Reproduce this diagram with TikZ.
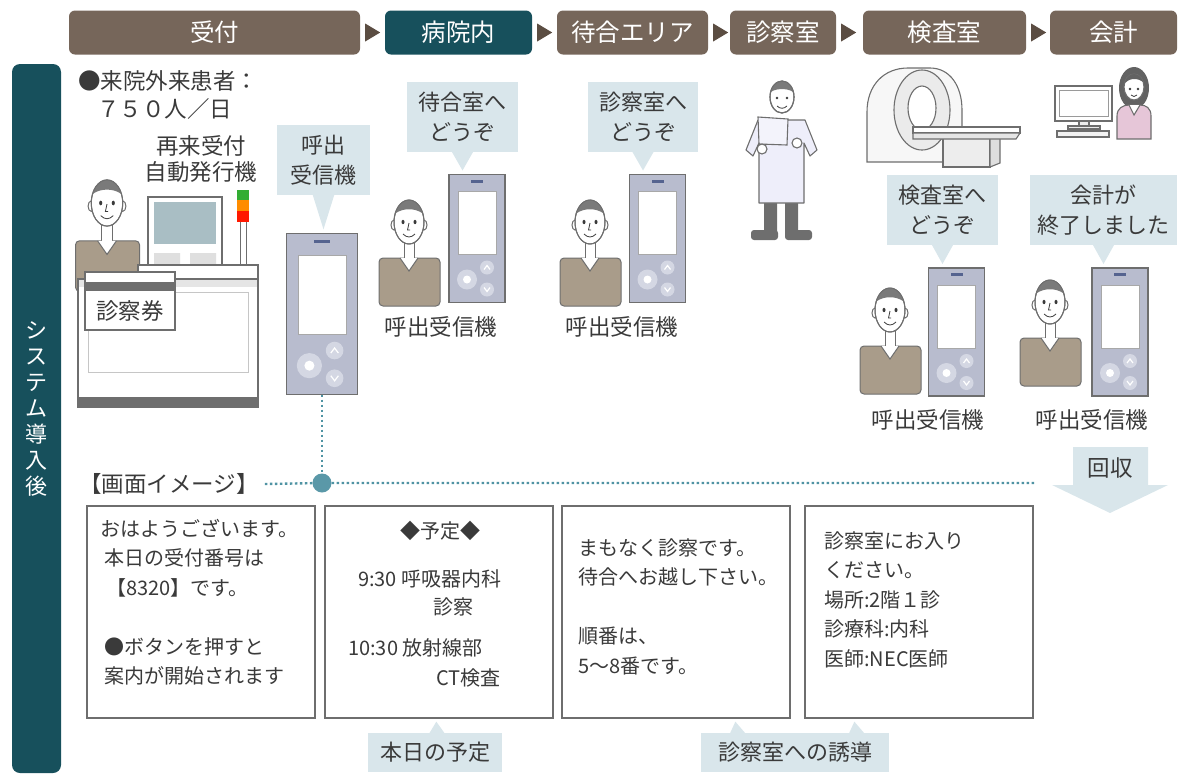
\documentclass[tikz,border=0pt]{standalone}
\usepackage{fontspec}
\setmainfont{Noto Sans CJK JP}
\usetikzlibrary{calc}

\definecolor{tabbrown}{HTML}{76665A}
\definecolor{tabteal}{HTML}{17505C}
\definecolor{tipbrown}{HTML}{5B4D42}
\definecolor{bubble}{HTML}{D9E6EB}
\definecolor{ink}{HTML}{3A3A3A}
\definecolor{edge}{HTML}{6E6E6E}
\definecolor{pagerbody}{HTML}{B8BCCE}
\definecolor{pagerkey}{HTML}{D4D7E3}
\definecolor{lamp}{HTML}{55638F}
\definecolor{shirt}{HTML}{A99C8A}
\definecolor{hair}{HTML}{7A7A7A}
\definecolor{dotteal}{HTML}{4F93A3}
\definecolor{hubteal}{HTML}{5A98A8}
\definecolor{kiosk}{HTML}{A9BEC4}
\definecolor{coat}{HTML}{EEEEFA}
\definecolor{blouse}{HTML}{E6C6D8}

\tikzset{
  pager/.pic={
    \draw[edge, line width=1.3pt, fill=pagerbody] (-28,-64) rectangle (28,64);
    \fill[lamp] (-6,-59) rectangle (6,-56);
    \draw[edge!60, fill=white] (-19,-47) rectangle (19,16);
    \fill[pagerkey] (-10,41) circle (10);
    \fill[white] (-10,41) circle (4);
    \fill[pagerkey] (10,29) circle (7) (10,51) circle (7);
    \draw[white, line width=1.2pt] (7,31) -- (10,27) -- (13,31) (7,49) -- (10,53) -- (13,49);
    \coordinate (-top) at (0,-64);
    \coordinate (-bot) at (0,64);
  },
  man/.pic={
    \draw[edge, line width=1pt, fill=shirt, rounded corners=4pt] (-30,84) -- (-30,36) -- (31,36) -- (31,84) -- cycle;
    \draw[edge, line width=1pt, fill=white] (-5,14) rectangle (5,38);
    \draw[edge, line width=1pt, fill=white] (-9,36) -- (0,49) -- (9,36);
    \draw[edge, line width=1pt, fill=white] (-15,3) ellipse (3 and 5) (15,3) ellipse (3 and 5);
    \draw[edge, line width=1pt, fill=white] (0,0) ellipse (15 and 22);
    \begin{scope}
      \clip (0,0) ellipse (15 and 22);
      \fill[hair] (-16,-2) -- (-13,-9) .. controls (-6,-14) and (6,-14) .. (13,-9) -- (16,-2) -- (16,-23) -- (-16,-23) -- cycle;
    \end{scope}
    \draw[edge, line width=1pt] (0,0) ellipse (15 and 22);
    \fill[ink] (-6,0) ellipse (1.5 and 2.2) (6,0) ellipse (1.5 and 2.2);
    \draw[ink, line width=0.8pt] (0,1) -- (-1.5,8) -- (1,8);
    \draw[ink, line width=0.8pt] (-6,12) .. controls (-2,16) and (2,16) .. (6,12);
  }
}

\begin{document}
\begin{tikzpicture}[x=1pt, y=-1pt,
  tab/.style={fill=tabbrown, text=white, rounded corners=6pt, minimum height=44pt, inner sep=0pt, font=\fontsize{24.5}{24.5}\selectfont},
  say/.style={fill=bubble, text=ink, align=center, inner sep=0pt, minimum height=70pt, font=\fontsize{22}{30}\selectfont},
  lbl/.style={text=ink, inner sep=0pt, align=center, font=\fontsize{22.5}{26}\selectfont},
  screen/.style={draw=edge, line width=1.3pt, fill=white, minimum width=228pt, minimum height=212pt, inner sep=0pt},
  scrtxt/.style={text=ink, inner sep=0pt, align=left, font=\fontsize{20}{29.5}\selectfont},
  dotline/.style={dotteal, line width=2.4pt, dash pattern=on 2.4pt off 2.6pt},
  thing/.style={draw=edge, line width=1.1pt},
]
\useasboundingbox (0,0) rectangle (1179,777);

\node[tab, minimum width=291pt] (reception) at (214.5,32.5) {受付};
\node[tab, fill=tabteal, minimum width=147pt] (hospital) at (458.5,32.5) {病院内};
\node[tab, minimum width=151pt] (waiting) at (632.5,32.5) {待合エリア};
\node[tab, minimum width=106pt] (exam) at (783,32.5) {診察室};
\node[tab, minimum width=163pt] (test) at (944.5,32.5) {検査室};
\node[tab, minimum width=127pt] (billing) at (1113.5,32.5) {会計};
\foreach \tb in {reception,hospital,waiting,exam,test}
  \fill[tipbrown] ($(\tb.east)+(5,-9)$) -- ($(\tb.east)+(20,0)$) -- ($(\tb.east)+(5,9)$) -- cycle;

\node[fill=tabteal, rounded corners=8pt, minimum width=49pt, minimum height=709pt, inner sep=0pt] (side) at (36.5,418.5) {};
\node[text=white, align=center, inner sep=0pt, font=\fontsize{22}{26}\selectfont] (sidetxt) at (36.5,409) {シ\\ス\\テ\\ム\\導\\入\\後};

% reception desk
\pic[scale=1.05] (clerk) at (107,203) {man};
\draw[thing, fill=white] (148,197) rectangle (222,265);
\fill[kiosk] (154,202) rectangle (216,244);
\fill[gray!25] (154,253) rectangle (180,264) (190,253) rectangle (216,264);
\draw[edge, line width=0.8pt] (240,222) -- (240,265) (246,222) -- (246,265);
\fill[green!60!black!80] (237,190) rectangle (249,200);
\fill[orange!90!yellow] (237,200) rectangle (249,211);
\fill[red!80!orange] (237,211) rectangle (249,222);
\draw[thing, fill=white] (138,265) rectangle (258,279);
\draw[thing, fill=white] (78,279) rectangle (258,407);
\fill[gray!20] (79,280) rectangle (257,287);
\draw[gray!45, line width=0.8pt] (88,292) rectangle (248,372);
\fill[edge] (78,397) rectangle (258,407);
\draw[thing, fill=white] (85,272) rectangle (175,330);
\fill[edge] (85,282) rectangle (175,291);
\node[lbl] (card) at (130,311) {診察券};

\node[lbl, anchor=west] (visitors) at (78,81) {●来院外来患者：};
\node[lbl, anchor=west] (perday) at (97,109) {７５０人／日};
\node[lbl] (kiosklbl) at (201,159) {再来受付\\自動発行機};

% pagers and patients
\pic[scale=1.26] (p1) at (322,314) {pager};
\pic (p2) at (477,238.5) {pager};
\pic (p3) at (657.5,238.5) {pager};
\pic (p5) at (956.5,332) {pager};
\pic (p6) at (1120,332) {pager};
\pic (m2) at (409,222) {man};
\pic (m3) at (590,222) {man};
\pic (m5) at (890,310) {man};
\pic (m6) at (1050,302) {man};
\node[lbl] (l2) at (441,327) {呼出受信機};
\node[lbl] (l3) at (622,327) {呼出受信機};
\node[lbl] (l5) at (928,420) {呼出受信機};
\node[lbl] (l6) at (1092,420) {呼出受信機};

\node[say, minimum width=93pt] (callb) at (323.5,160) {呼出\\受信機};
\node[say, minimum width=111pt] (waitb) at (462.5,117) {待合室へ\\どうぞ};
\node[say, minimum width=110pt] (examb) at (643,117) {診察室へ\\どうぞ};
\node[say, minimum width=111pt] (testb) at (942.5,210) {検査室へ\\どうぞ};
\node[say, minimum width=147pt] (payb) at (1103.5,210) {会計が\\終了しました};
\foreach \bub/\pg in {callb/p1,waitb/p2,examb/p3,testb/p5,payb/p6}
  \fill[bubble] ($(\bub.south)+(-11,-1)$) -- ($(\bub.south |- \pg-top)+(0,-4)$) -- ($(\bub.south)+(11,-1)$) -- cycle;

% doctor
\fill[edge] (764,200) rectangle (777,235) (785,200) rectangle (798,235);
\fill[edge, rounded corners=3pt] (751,230) rectangle (778,240) (785,230) rectangle (812,240);
\draw[thing, fill=coat, line join=round] (758,120) -- (746,150) -- (753,156) -- (759,143) -- (759,203) -- (804,203) -- (804,143) -- (810,156) -- (817,150) -- (805,120) -- cycle;
\draw[thing, fill=coat!70!white] (758,117) -- (788,119) -- (787,145) -- (759,144) -- cycle;
\draw[thing, fill=white] (762,149) circle (5) (797,143) circle (5);
\draw[thing, fill=white] (782,97) ellipse (12 and 16);
\begin{scope}
  \clip (782,97) ellipse (12 and 16);
  \fill[hair] (768,95) .. controls (772,87) and (792,87) .. (796,95) -- (796,78) -- (768,78) -- cycle;
\end{scope}
\draw[thing] (782,97) ellipse (12 and 16);
\fill[ink] (777,98) circle (1.4) (787,98) circle (1.4);
\draw[ink, line width=0.8pt] (777,106) .. controls (780,109) and (784,109) .. (787,106);

% scanner
\draw[thing, fill=gray!6] (867,162) -- (867,112) .. controls (867,85) and (884,68) .. (908,68) -- (930,68) .. controls (950,68) and (962,86) .. (962,110) -- (962,162) -- cycle;
\draw[thing, fill=gray!16] (922,110) ellipse (28 and 40);
\draw[thing, fill=white] (922,108) ellipse (14 and 22);
\draw[thing, fill=gray!14] (943,138) rectangle (990,167);
\draw[thing, fill=gray!26] (990,138) -- (1000,134) -- (1000,163) -- (990,167) -- cycle;
\draw[thing, fill=white] (913,127) rectangle (1020,133);
\draw[thing, fill=gray!20] (913,133) -- (1020,133) -- (1016,139) -- (913,139) -- cycle;

% billing desk
\draw[thing, line width=1.6pt, fill=white] (1055,86) rectangle (1112,121);
\draw[edge!70] (1059,90) rectangle (1108,116);
\draw[thing, fill=gray!15] (1079,121) rectangle (1089,126);
\draw[thing, fill=gray!15] (1068,126) rectangle (1100,129);
\draw[thing, fill=gray!10] (1057,131) rectangle (1109,137);
\fill[hair!80!black] (1134,88) ellipse (15 and 21);
\draw[thing, fill=blouse] (1117,139) -- (1117,116) .. controls (1117,108) and (1123,105) .. (1129,105) -- (1140,105) .. controls (1146,105) and (1151,108) .. (1151,116) -- (1151,139) -- cycle;
\draw[thing, fill=white] (1129,105) -- (1134,115) -- (1140,105);
\draw[thing, fill=white] (1134,87) ellipse (10 and 13);
\begin{scope}
  \clip (1134,87) ellipse (10 and 13);
  \fill[hair!80!black] (1123,86) .. controls (1127,78) and (1138,76) .. (1145,84) -- (1145,72) -- (1123,72) -- cycle;
\end{scope}
\fill[ink] (1130,89) circle (1.3) (1138,89) circle (1.3);
\draw[ink, line width=0.8pt] (1131,95) .. controls (1133,97) and (1135,97) .. (1137,95);

% screen images
\node[lbl, anchor=west] (scrlbl) at (79,484) {【画面イメージ】};
\node[circle, fill=hubteal, minimum size=19pt, inner sep=0pt] (hub) at (322,483) {};
\coordinate (dotend) at (1036,483);
\draw[dotline] (p1-bot) -- (hub);
\draw[dotline] ($(scrlbl.east)+(6,0)$) -- (hub) -- (dotend);

\node[screen] (s1) at (201,612) {};
\node[screen] (s2) at (439,612) {};
\node[screen] (s3) at (676,612) {};
\node[screen] (s4) at (919,612) {};

\node[scrtxt, anchor=north west] (w1) at (100,519) {おはようございます。\\\hspace*{4pt}本日の受付番号は\\\hspace*{6pt}【8320】です。\\[29.5pt]\hspace*{4pt}●ボタンを押すと\\\hspace*{4pt}案内が開始されます};
\node[scrtxt] (w2a) at (440,531) {◆予定◆};
\node[scrtxt, anchor=west] (w2b) at (358,579) {9:30 呼吸器内科};
\node[scrtxt] (w2c) at (453,607) {診察};
\node[scrtxt, anchor=west] (w2d) at (348,648) {10:30 放射線部};
\node[scrtxt, anchor=east] (w2e) at (501,678) {CT検査};
\node[scrtxt, anchor=north west] (w3) at (578,538) {まもなく診察です。\\待合へお越し下さい。\\[29.5pt]順番は、\\5～8番です。};
\node[scrtxt, anchor=north west] (w4) at (824,531) {診察室にお入り\\ください。\\場所:2階１診\\診療科:内科\\医師:NEC医師};

\fill[bubble] (1073,447) -- (1148,447) -- (1148,485) -- (1168,485) -- (1110,513) -- (1052,485) -- (1073,485) -- cycle;
\node[lbl] (back) at (1110,468) {回収};

\node[say, minimum width=134pt, minimum height=39pt] (today) at (435,752.5) {本日の予定};
\node[say, minimum width=188pt, minimum height=39pt] (guide) at (795,752.5) {診察室への誘導};
\fill[bubble] ($(today.north)+(-6,1)$) -- ($(s2.south west)+(112,3)$) -- ($(today.north)+(10,1)$) -- cycle;
\fill[bubble] ($(guide.north west)+(29,1)$) -- ($(s3.south west)+(174,3)$) -- ($(guide.north west)+(45,1)$) -- cycle;
\fill[bubble] ($(guide.north west)+(148,1)$) -- ($(s4.south west)+(50,3)$) -- ($(guide.north west)+(164,1)$) -- cycle;
\end{tikzpicture}
\end{document}
